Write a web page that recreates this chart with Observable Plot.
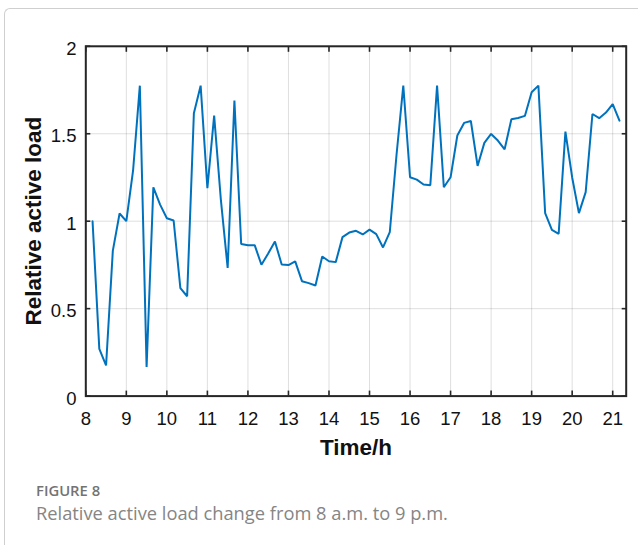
<!DOCTYPE html>
<html>
<head>
<meta charset="utf-8">
<script src="https://cdn.jsdelivr.net/npm/d3@7"></script>
<script src="https://cdn.jsdelivr.net/npm/@observablehq/plot@0.6"></script>
<style>
  html, body { margin: 0; padding: 0; background: #fff; }
  body { width: 638px; height: 545px; position: relative; overflow: hidden; }
  #frame { position: absolute; left: 4px; top: 8px; right: -10px; bottom: -10px;
           border-left: 1px solid #cfcfcf; border-top: 1px solid #cfcfcf; border-top-left-radius: 6px; }
  #chart { position: absolute; left: 0; top: 0; }
  .fig { position: absolute; left: 36px; font-family: "Open Sans", sans-serif; line-height: 1; white-space: nowrap; }
  #figlabel { top: 482.5px; font-size: 14.8px; font-weight: 600; color: #737373; }
  #figcap { top: 504.3px; font-size: 18.3px; color: #858585; }
</style>
</head>
<body>
<div id="frame"></div>
<div id="chart"></div>
<div class="fig" id="figlabel">FIGURE 8</div>
<div class="fig" id="figcap">Relative active load change from 8 a.m. to 9 p.m.</div>
<script>
const times = [
  "8:10","8:20","8:30","8:40","8:50","9:00","9:10","9:20","9:30","9:40","9:50",
  "10:00","10:10","10:20","10:30","10:40","10:50","11:00","11:10","11:20","11:30","11:40","11:50",
  "12:00","12:10","12:20","12:30","12:40","12:50","13:00","13:10","13:20","13:30","13:40","13:50",
  "14:00","14:10","14:20","14:30","14:40","14:50","15:00","15:10","15:20","15:30","15:40","15:50",
  "16:00","16:10","16:20","16:30","16:40","16:50","17:00","17:10","17:20","17:30","17:40","17:50",
  "18:00","18:10","18:20","18:30","18:40","18:50","19:00","19:10","19:20","19:30","19:40","19:50",
  "20:00","20:10","20:20","20:30","20:40","20:50","21:00","21:10"
];
const load = [
  1.0, 0.27, 0.175, 0.83, 1.044, 1.0, 1.29, 1.775, 0.166, 1.194, 1.095,
  1.017, 1.004, 0.617, 0.571, 1.617, 1.775, 1.189, 1.604, 1.12, 0.733, 1.69, 0.870,
  0.863, 0.863, 0.751, 0.815, 0.884, 0.752, 0.749, 0.77, 0.657, 0.646, 0.632, 0.798,
  0.771, 0.766, 0.909, 0.935, 0.945, 0.924, 0.952, 0.926, 0.85, 0.937, 1.38, 1.775,
  1.251, 1.238, 1.21, 1.206, 1.775, 1.194, 1.251, 1.49, 1.562, 1.573, 1.316, 1.448,
  1.499, 1.461, 1.411, 1.583, 1.59, 1.602, 1.737, 1.775, 1.046, 0.95, 0.928, 1.512,
  1.25, 1.046, 1.166, 1.613, 1.589, 1.621, 1.67, 1.575
];
const xTicks = [8, 9, 10, 11, 12, 13, 14, 15, 16, 17, 18, 19, 20, 21];
const yTicks = [0, 0.5, 1, 1.5, 2];
const xDomain = [8, 21.333];
const yDomain = [0, 2];
const xTitle = "Time/h";
const yTitle = "Relative active load";

const data = times.map((t, i) => {
  const [h, m] = t.split(":").map(Number);
  return { t: h + m / 60, v: load[i] };
});

const axisColor = "#262626";
const tickFont = "'Liberation Sans', Arial, Helvetica, sans-serif";
const fmt = d => String(d);

const chart = Plot.plot({
  width: 638,
  height: 470,
  marginLeft: 85.3,
  marginRight: 12.3,
  marginTop: 45.8,
  marginBottom: 74.4,
  style: { fontFamily: tickFont, background: "transparent", color: axisColor, overflow: "visible" },
  x: { domain: xDomain, ticks: xTicks },
  y: { domain: yDomain, ticks: yTicks },
  marks: [
    Plot.gridX(xTicks, { stroke: axisColor, strokeOpacity: 0.15, strokeWidth: 1 }),
    Plot.gridY(yTicks, { stroke: axisColor, strokeOpacity: 0.15, strokeWidth: 1 }),
    Plot.lineY(data, { x: "t", y: "v", stroke: "#0072BD", strokeWidth: 2, strokeLinejoin: "miter" }),
    Plot.axisX(xTicks, { anchor: "bottom", tickSize: 0, tickPadding: 15.5, fontSize: 18.5, label: null, fill: "#111", tickFormat: fmt }),
    Plot.axisY(yTicks, { anchor: "left", tickSize: 0, tickPadding: 9.3, dy: 2.5, fontSize: 18.5, label: null, fill: "#111", tickFormat: fmt }),
    Plot.axisX(xTicks, { anchor: "bottom", tickSize: -5, text: null, label: null, stroke: axisColor, strokeWidth: 1.6 }),
    Plot.axisX(xTicks, { anchor: "top", tickSize: -5, text: null, label: null, stroke: axisColor, strokeWidth: 1.6 }),
    Plot.axisY(yTicks, { anchor: "left", tickSize: -5, text: null, label: null, stroke: axisColor, strokeWidth: 1.6 }),
    Plot.axisY(yTicks, { anchor: "right", tickSize: -5, text: null, label: null, stroke: axisColor, strokeWidth: 1.6 }),
    Plot.frame({ stroke: axisColor, strokeWidth: 2 }),
    Plot.text([xTitle], { frameAnchor: "bottom", textAnchor: "middle", lineAnchor: "middle", dy: 51.4, fontSize: 22.5, fontWeight: "bold", fill: "#111", letterSpacing: "-0.4px" }),
    Plot.text([yTitle], { frameAnchor: "left", textAnchor: "middle", lineAnchor: "middle", rotate: -90, dx: -52.3, fontSize: 22.5, fontWeight: "bold", fill: "#111", letterSpacing: "-0.4px" })
  ]
});
document.getElementById("chart").appendChild(chart);
</script>
</body>
</html>
